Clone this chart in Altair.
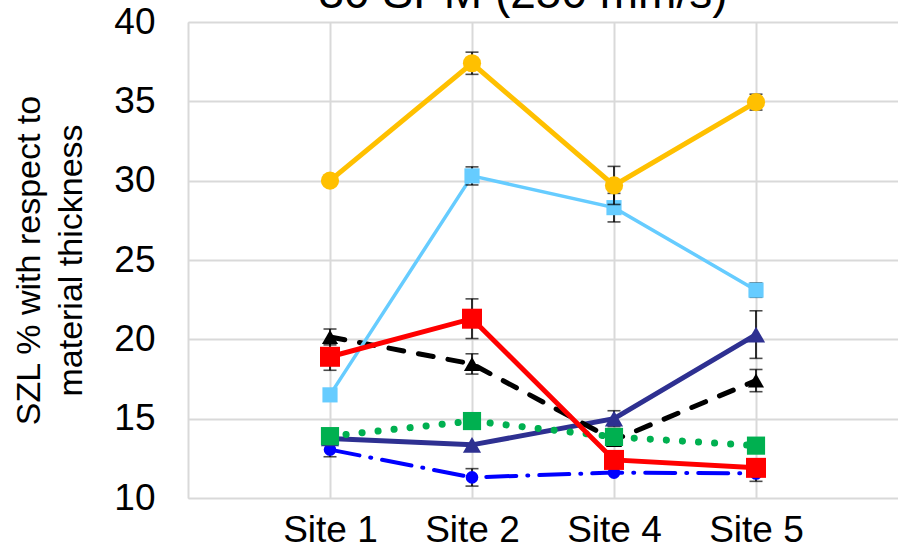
import json
import altair as alt
import pandas as pd

chart_title = "30 SPM (250 mm/s)"
y_title = ["SZL % with respect to", "material thickness"]

# category axis: sites sit at positions 1..4 on a 0..5 track
site_labels = ["Site 1", "Site 2", "Site 4", "Site 5"]
site_pos = [1, 2, 3, 4]

# SZL % per site and the +/- error of each value
orange_vals = [30.0, 37.4, 29.7, 34.95]
orange_err = [0.0, 0.7, 1.2, 0.5]
lightblue_vals = [16.5, 30.3, 28.3, 23.1]
lightblue_err = [0.0, 0.57, 0.9, 0.45]
red_vals = [18.9, 21.3, 12.4, 11.9]
red_err = [0.85, 1.25, 0.0, 0.0]
black_vals = [20.15, 18.45, 13.65, 17.4]
black_err = [0.5, 0.64, 0.0, 0.7]
green_vals = [13.9, 14.85, 13.85, 13.3]
green_err = [0.0, 0.0, 0.0, 0.0]
navy_vals = [13.75, 13.35, 15.0, 20.3]
navy_err = [0.0, 0.0, 0.5, 1.5]
blue_vals = [13.05, 11.3, 11.6, 11.55]
blue_err = [0.45, 0.55, 0.0, 0.5]

FONT = "Liberation Sans"
GRID = "#D9D9D9"

x_enc = alt.X(
    "pos:Q",
    scale=alt.Scale(domain=[0, 5], nice=False, zero=False),
    axis=alt.Axis(
        values=[0, 1, 2, 3, 4],
        labelExpr=json.dumps([""] + site_labels) + "[datum.value]",
        title=None,
        grid=True,
        gridColor=GRID,
        gridWidth=2,
        domain=False,
        ticks=False,
        labelFontSize=37,
        labelPadding=14,
        labelColor="black",
        labelFont=FONT,
    ),
)
y_enc = alt.Y(
    "value:Q",
    scale=alt.Scale(domain=[10, 40], nice=False, zero=False),
    axis=alt.Axis(
        values=[10, 15, 20, 25, 30, 35, 40],
        title=y_title,
        titleFontSize=34,
        titleFontWeight="normal",
        titleFont=FONT,
        titleColor="black",
        titleX=-159,
        titleBaseline="middle",
        titleLineHeight=42,
        grid=True,
        gridColor=GRID,
        gridWidth=2,
        domain=False,
        ticks=False,
        labelFontSize=37,
        labelPadding=33,
        labelColor="black",
        labelFont=FONT,
    ),
)


def series_layers(vals, errs, color, shape, size, width, dash=None, cap="butt"):
    df = pd.DataFrame({"pos": site_pos, "value": vals, "err": errs})
    df["lo"] = df["value"] - df["err"]
    df["hi"] = df["value"] + df["err"]
    base = alt.Chart(df)
    line_kw = dict(color=color, strokeWidth=width, strokeCap=cap)
    if dash:
        line_kw["strokeDash"] = dash
    line = base.mark_line(**line_kw).encode(x=x_enc, y=y_enc)
    eb = base.transform_filter("datum.err > 0")
    rule = eb.mark_rule(color="black", strokeWidth=1.6).encode(
        x="pos:Q", y="lo:Q", y2="hi:Q"
    )
    cap_lo = eb.mark_tick(orient="horizontal", color="black", size=13, thickness=1.6).encode(
        x="pos:Q", y="lo:Q"
    )
    cap_hi = eb.mark_tick(orient="horizontal", color="black", size=13, thickness=1.6).encode(
        x="pos:Q", y="hi:Q"
    )
    pts = base.mark_point(filled=True, shape=shape, size=size, color=color, opacity=1).encode(
        x="pos:Q", y="value:Q"
    )
    return [line, rule, cap_lo, cap_hi, pts]


layers = []
layers += series_layers(blue_vals, blue_err, "#0000FF", "circle", 160, 4, [30, 11, 1, 11], "round")
layers += series_layers(navy_vals, navy_err, "#2E3091", "triangle-up", 330, 5)
layers += series_layers(black_vals, black_err, "#000000", "triangle-up", 260, 5, [15, 15], "round")
layers += series_layers(green_vals, green_err, "#00B050", "square", 330, 7, [0.1, 16], "round")
layers += series_layers(lightblue_vals, lightblue_err, "#66CCFF", "square", 230, 3.5)
layers += series_layers(red_vals, red_err, "#FF0000", "square", 400, 5)
layers += series_layers(orange_vals, orange_err, "#FFC000", "circle", 330, 5)

title_mark = alt.Chart(pd.DataFrame({"t": [chart_title]})).mark_text(
    fontSize=46, font=FONT, color="black", align="center", baseline="alphabetic"
).encode(x=alt.value(335), y=alt.value(-14), text="t:N")
layers.append(title_mark)

chart = (
    alt.layer(*layers)
    .properties(
        width=710,
        height=476,
        autosize=alt.AutoSizeParams(type="none"),
        padding={"left": 188, "top": 22, "right": 0, "bottom": 50},
        background="white",
    )
    .configure_view(stroke=None)
    .configure(font=FONT)
)

chart.save("out.html", embed_options={"renderer": "svg", "actions": False})
